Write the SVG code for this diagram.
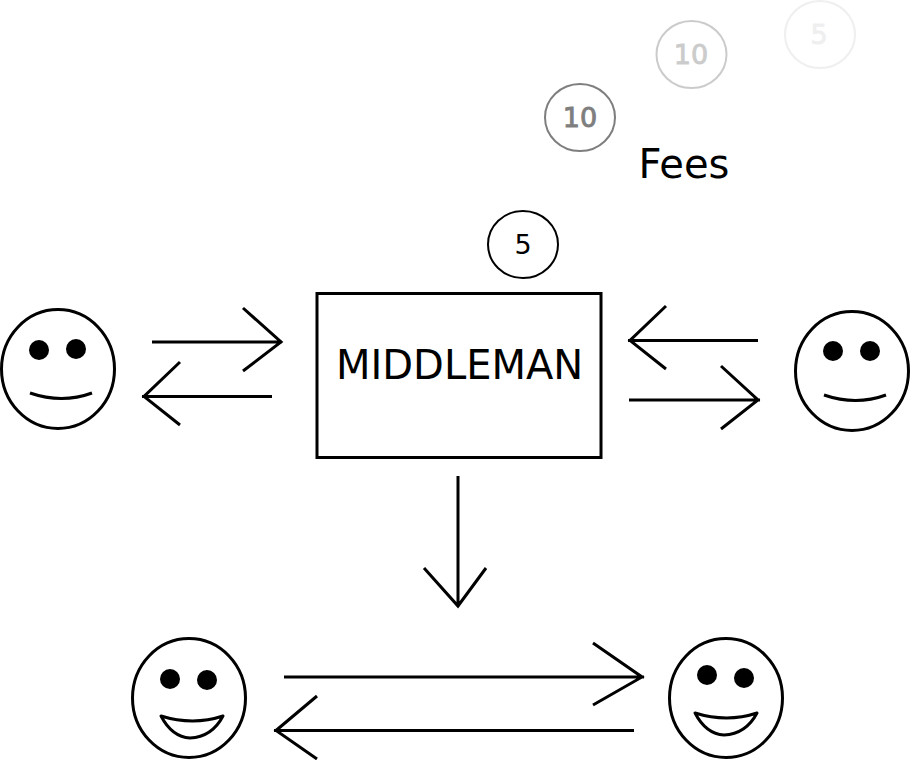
<svg xmlns="http://www.w3.org/2000/svg" width="910" height="760" viewBox="0 0 910 760">
<style>
.f{fill:#fff;stroke:#000;stroke-width:3}
.l{fill:none;stroke:#000;stroke-width:3}
.m{fill:#fff;stroke:#000;stroke-width:3;stroke-linejoin:round}
.c{fill:#fff;stroke:#000;stroke-width:2}
.t{font-family:"DejaVu Sans",sans-serif;fill:#000}
.b{stroke:#000;stroke-width:1}
.e{fill:#000;stroke:none}
</style>
<rect width="910" height="760" fill="#fff"/>
<g id="coin-5-faded" opacity="0.06"><ellipse class="c" cx="820" cy="34.500" rx="35" ry="33.500"/><text class="t b" x="819" y="44" font-size="27" text-anchor="middle">5</text></g>
<g id="coin-10-light" opacity="0.2"><ellipse class="c" cx="691.500" cy="54.500" rx="35" ry="33.500"/><text class="t b" x="691" y="64" font-size="27" text-anchor="middle">10</text></g>
<g id="coin-10-mid" opacity="0.5"><ellipse class="c" cx="580" cy="117.500" rx="35" ry="33.500"/><text class="t b" x="580" y="127" font-size="27" text-anchor="middle">10</text></g>
<g id="fees"><text class="t" x="638.500" y="178" font-size="40">Fees</text></g>
<g id="coin-5"><ellipse class="c" cx="523" cy="244.500" rx="35" ry="33.500"/><text class="t" x="523" y="254" font-size="27" text-anchor="middle">5</text></g>
<g id="middleman"><rect class="f" x="317" y="293.500" width="284" height="164"/><text class="t" x="336" y="379" font-size="40">MIDDLEMAN</text></g>
<g id="face-left"><ellipse class="f" cx="58" cy="369" rx="56.500" ry="59.500"/><circle class="e" cx="39" cy="350" r="10"/><circle class="e" cx="76" cy="349" r="10"/><path class="l" d="M30 393Q62 404 92 393"/></g>
<g id="face-right"><ellipse class="f" cx="852" cy="371" rx="56.500" ry="59.500"/><circle class="e" cx="833" cy="351" r="10"/><circle class="e" cx="870" cy="351" r="10"/><path class="l" d="M824 395Q856 406 886 395"/></g>
<g id="face-bottom-left"><ellipse class="f" cx="189" cy="698" rx="56.500" ry="59.500"/><circle class="e" cx="170" cy="679" r="10"/><circle class="e" cx="207" cy="680" r="10"/><path class="m" d="M161 716Q193 726 223 716Q212 737 190 738Q172 737 161 716Z"/></g>
<g id="face-bottom-right"><ellipse class="f" cx="726" cy="698" rx="56.500" ry="59.500"/><circle class="e" cx="707" cy="675" r="10"/><circle class="e" cx="744" cy="678" r="10"/><path class="m" d="M695 713Q727 723 757 713Q746 734 724 735Q706 734 695 713Z"/></g>
<g id="connectors" class="l">
<path d="M152 342H282M243 308L281 342L243 371"/>
<path d="M272 396.500H142M180 362L144 396.500L180 425"/>
<path d="M758 340.500H628M666 306L630 340.500L666 369"/>
<path d="M629 400H760M721 366L758 400L721 429"/>
<path d="M458 476V607M424 568L458 606L486 568"/>
<path d="M284 677H644M593 643L642 677L593 705"/>
<path d="M634 730.500H274M317 696L276 730.500L317 759"/>
</g>
</svg>
